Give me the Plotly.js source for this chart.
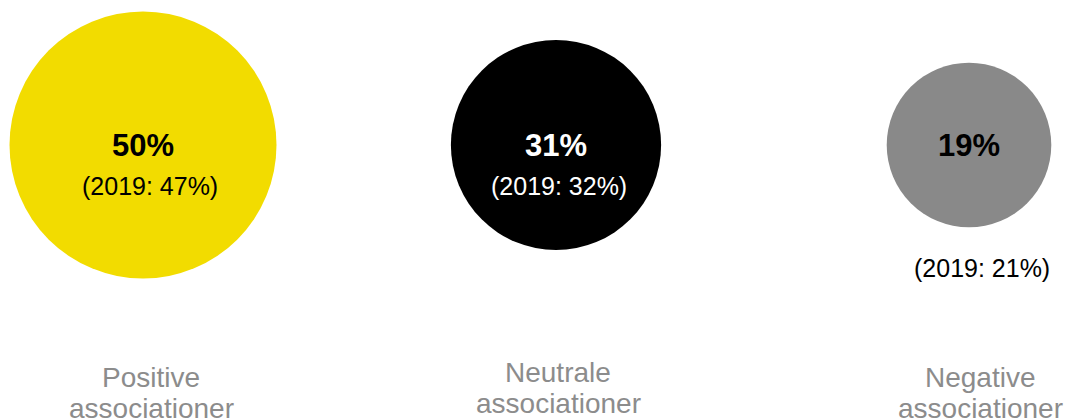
<!DOCTYPE html>
<html>
<head>
<meta charset="utf-8">
<script src="https://cdn.plot.ly/plotly-3.0.1.min.js"></script>
<style>html,body{margin:0;padding:0;background:#fff;overflow:hidden;}#chart{width:1069px;height:418px;}</style>
</head>
<body>
<div id="chart"></div>
<script>
// ---- data ----
var categoriesLine1 = ["Positive", "Neutrale", "Negative"];
var categoriesLine2 = ["associationer", "associationer", "associationer"];
var share2020 = [50, 31, 19];
var share2019 = [47, 32, 21];
var colors = ["#F2DC00", "#000000", "#898989"];
var pctTextColors = ["#000000", "#FFFFFF", "#000000"];
var subTextColors = ["#000000", "#FFFFFF", "#000000"];

// ---- layout settings (pixels) ----
var W = 1069, H = 418;
var centerY = 145;
var subY = [186, 186, 268];
var subDx = [7, 3, 13];
var label1Y = [377, 372, 377];
var label2Y = [408, 403, 408];
var labelDx = [8, 2, 11];
var maxDiameter = 267;
var FONT = "Liberation Sans, Arial, sans-serif";

function py(px) { return 1 - px / H; }

var xs = share2020.map(function (v, i) { return i; });

var trace = {
  type: "scatter",
  mode: "markers",
  x: xs,
  y: xs.map(function () { return 0; }),
  marker: {
    size: share2020,
    sizemode: "area",
    sizeref: 2 * Math.max.apply(null, share2020) / (maxDiameter * maxDiameter),
    color: colors,
    opacity: 1,
    line: { width: 0 }
  },
  hoverinfo: "skip",
  cliponaxis: false
};

var annotations = [];
share2020.forEach(function (v, i) {
  annotations.push({
    x: i, xref: "x", y: py(centerY), yref: "paper",
    text: "<b>" + v + "%</b>", showarrow: false,
    xanchor: "center", yanchor: "middle",
    font: { family: FONT, size: 31, color: pctTextColors[i] }
  });
  annotations.push({
    x: i, xref: "x", y: py(subY[i]), yref: "paper", xshift: subDx[i],
    text: "(2019: " + share2019[i] + "%)", showarrow: false,
    xanchor: "center", yanchor: "middle",
    font: { family: FONT, size: 25, color: subTextColors[i] }
  });
  annotations.push({
    x: i, xref: "x", y: py(label1Y[i]), yref: "paper", xshift: labelDx[i],
    text: categoriesLine1[i], showarrow: false,
    xanchor: "center", yanchor: "middle",
    font: { family: FONT, size: 28, color: "#8C8C8C" }
  });
  annotations.push({
    x: i, xref: "x", y: py(label2Y[i]), yref: "paper", xshift: labelDx[i],
    text: categoriesLine2[i], showarrow: false,
    xanchor: "center", yanchor: "middle",
    font: { family: FONT, size: 28, color: "#8C8C8C" }
  });
});

// pixel mapping: x=0 -> 143px, x=1 -> 556px, x=2 -> 969px
var unit = 413;
var x0px = 143;

var layout = {
  width: W, height: H,
  margin: { l: 0, r: 0, t: 0, b: 0, pad: 0 },
  paper_bgcolor: "#FFFFFF",
  plot_bgcolor: "#FFFFFF",
  showlegend: false,
  hovermode: false,
  xaxis: {
    range: [-x0px / unit, (W - x0px) / unit],
    visible: false, fixedrange: true
  },
  yaxis: {
    range: [-(H - centerY), centerY],
    visible: false, fixedrange: true
  },
  annotations: annotations
};

Plotly.newPlot("chart", [trace], layout, { displayModeBar: false, staticPlot: true });
</script>
</body>
</html>
